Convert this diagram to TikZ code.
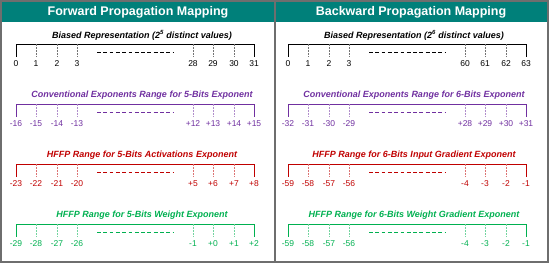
\documentclass[tikz,border=0pt]{standalone}
\usepackage{fontspec}
\setmainfont{Liberation Sans}
\definecolor{headteal}{RGB}{0,128,122}
\definecolor{framegray}{RGB}{110,110,110}
\definecolor{convpurple}{RGB}{112,48,160}
\definecolor{actred}{RGB}{192,0,0}
\definecolor{wgtgreen}{RGB}{0,176,80}
\usetikzlibrary{calc}

% one scale: name, x offset, line y, colour, title, tick labels
\newcommand{\scalerow}[6]{%
  \draw[rowline, #4] (#2+16,#3+13) -- (#2+16,#3) -- (#2+254,#3) -- (#2+254,#3+13);
  \foreach \x in {36,57,77,193,213,234}
    \draw[tickline, #4!55] (#2+\x,#3) -- (#2+\x,#3+13);
  \draw[gapline, #4] (#2+97,#3+9) -- (#2+173,#3+9);
  \node[rowtitle, text=#4] (#1-title) at (#2+142,#3-9) {#5};
  \foreach \x/\t [count=\i] in {#6}
    \node[ticklabel, text=#4] (#1-\i) at (#2+\x,#3+20) {\t};
}

\begin{document}
\begin{tikzpicture}[x=1pt, y=-1pt,
  rowline/.style={line width=0.8pt},
  tickline/.style={line width=0.6pt, dash pattern=on 0.9pt off 0.6pt},
  gapline/.style={line width=1pt, dash pattern=on 3.8pt off 2.5pt},
  rowtitle/.style={font=\fontsize{9}{10}\selectfont\bfseries\itshape, inner sep=0pt},
  ticklabel/.style={font=\fontsize{8.5}{9}\selectfont, inner sep=0pt},
  headtitle/.style={font=\fontsize{12.5}{14}\selectfont\bfseries, text=white, inner sep=0pt}]
\useasboundingbox (0,0) rectangle (550,264);
% header bars and frame
\fill[headteal] (1,1) rectangle (548,22);
\draw[framegray, line width=1.2pt] (1,1) rectangle (548,262);
\draw[framegray, line width=1.2pt] (275,1) -- (275,262);
\node[headtitle] (fwd-head) at (138,12) {Forward Propagation Mapping};
\node[headtitle] (bwd-head) at (411,12) {Backward Propagation Mapping};

% forward propagation
\scalerow{fbias}{0}{44}{black}{Biased Representation (2\textsuperscript{5} distinct values)}
  {16/0,36/1,57/2,77/3,193/28,213/29,234/30,254/31}
\scalerow{fconv}{0}{104}{convpurple}{Conventional Exponents Range for 5-Bits Exponent}
  {16/-16,36/-15,57/-14,77/-13,193/+12,213/+13,234/+14,254/+15}
\scalerow{fact}{0}{164}{actred}{HFFP Range for 5-Bits Activations Exponent}
  {16/-23,36/-22,57/-21,77/-20,193/+5,213/+6,234/+7,254/+8}
\scalerow{fwgt}{0}{224}{wgtgreen}{HFFP Range for 5-Bits Weight Exponent}
  {16/-29,36/-28,57/-27,77/-26,193/-1,213/+0,234/+1,254/+2}

% backward propagation
\scalerow{bbias}{272}{44}{black}{Biased Representation (2\textsuperscript{6} distinct values)}
  {16/0,36/1,57/2,77/3,193/60,213/61,234/62,254/63}
\scalerow{bconv}{272}{104}{convpurple}{Conventional Exponents Range for 6-Bits Exponent}
  {16/-32,36/-31,57/-30,77/-29,193/+28,213/+29,234/+30,254/+31}
\scalerow{bgrad}{272}{164}{actred}{HFFP Range for 6-Bits Input Gradient Exponent}
  {16/-59,36/-58,57/-57,77/-56,193/-4,213/-3,234/-2,254/-1}
\scalerow{bwgt}{272}{224}{wgtgreen}{HFFP Range for 6-Bits Weight Gradient Exponent}
  {16/-59,36/-58,57/-57,77/-56,193/-4,213/-3,234/-2,254/-1}
\end{tikzpicture}
\end{document}
